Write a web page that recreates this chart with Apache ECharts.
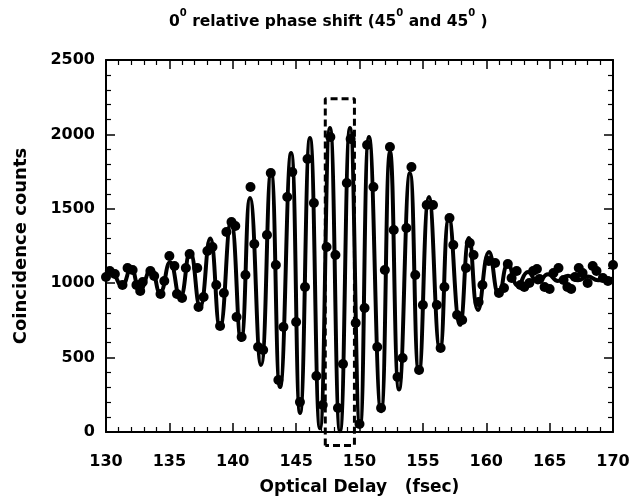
<!DOCTYPE html>
<html><head><meta charset="utf-8">
<script src="https://cdn.jsdelivr.net/npm/echarts@6/dist/echarts.min.js"></script>
<style>html,body{margin:0;padding:0;background:#fff}#c{width:634px;height:504px}</style>
</head><body><div id="c"></div>
<script>
// tick labels
const xTicks = [130, 135, 140, 145, 150, 155, 160, 165, 170];
const yTicks = [0, 500, 1000, 1500, 2000, 2500];

// measured data points (optical delay in fsec, coincidence counts)
const dotX = [130.0,130.3,130.7,131.3,131.7,132.1,132.4,132.7,132.9,133.5,133.8,134.3,134.6,135.0,135.4,135.6,136.0,136.3,136.6,137.2,137.3,137.7,138.0,138.4,138.7,139.0,139.3,139.5,139.9,140.2,140.3,140.7,141.0,141.4,141.7,142.0,142.4,142.7,143.0,143.4,143.6,144.0,144.3,144.7,145.0,145.3,145.7,145.9,146.4,146.6,147.1,147.4,147.7,148.1,148.3,148.7,149.0,149.3,149.7,150.0,150.4,150.6,151.1,151.4,151.7,152.0,152.4,152.7,153.0,153.4,153.7,154.1,154.4,154.7,155.0,155.3,155.8,156.1,156.4,156.7,157.1,157.4,157.7,158.1,158.4,158.7,159.0,159.4,159.7,160.2,160.7,161.0,161.4,161.7,162.0,162.4,162.7,163.0,163.4,163.7,164.0,164.2,164.6,165.0,165.3,165.7,166.1,166.4,166.7,167.0,167.3,167.6,168.0,168.4,168.7,169.2,169.6,170.0];
const dotY = [1042,1082,1062,988,1102,1089,988,948,1008,1082,1048,927,1015,1183,1116,927,900,1102,1196,1102,840,907,1216,1243,988,712,934,1344,1411,1384,773,638,1055,1646,1263,571,551,1324,1740,1122,349,706,1579,1747,739,202,974,1835,1539,376,181,1243,1982,1189,161,457,1673,1969,732,54,833,1929,1646,571,161,1089,1915,1357,370,497,1371,1781,1055,417,853,1525,1525,853,564,974,1438,1257,786,753,1102,1270,1189,874,988,1149,1136,934,968,1129,1035,1082,988,974,1001,1082,1095,1028,974,961,1068,1102,1021,974,961,1042,1102,1068,1001,1116,1082,1035,1015,1122];

// fitted curve, read at its turning points
const fitX = [130.00,130.32,131.26,131.97,132.68,133.55,134.26,135.05,135.84,136.63,137.42,138.21,138.99,139.86,140.65,141.36,142.23,143.02,143.73,144.60,145.31,146.09,146.88,147.67,148.46,149.25,150.04,150.75,151.70,152.41,153.12,153.98,154.69,155.48,156.35,157.06,157.93,158.64,159.35,160.22,161.01,161.72,162.50,163.29,164.08,164.87,165.66,166.45,167.24,168.03,168.82,170.00];
const fitY = [1045,1090,985,1100,955,1095,935,1140,900,1210,840,1300,705,1411,618,1572,450,1747,302,1875,128,1976,25,2043,5,2043,40,1983,140,1882,285,1740,400,1579,555,1438,720,1304,820,1210,920,1130,985,1075,1005,1060,1015,1050,1020,1045,1020,1030];

// dashed box around the central fringe
const boxX = [147.3, 149.6];
const boxY = [-90, 2240];

const zip = (a, b) => a.map((v, i) => [v, b[i]]);
const boxData = [[boxX[0], boxY[0]], [boxX[0], boxY[1]], [boxX[1], boxY[1]], [boxX[1], boxY[0]], [boxX[0], boxY[0]]];

const FONT = 'DejaVu Sans';
const axisCommon = {
  type: 'value',
  axisLine: { show: true, onZero: false, lineStyle: { color: '#000', width: 2 } },
  axisTick: { show: true, inside: true, length: 9, lineStyle: { color: '#000', width: 1.5 } },
  minorTick: { show: true, splitNumber: 5, length: 5, lineStyle: { color: '#000', width: 1.2 } },
  splitLine: { show: false },
  minorSplitLine: { show: false }
};
const labelStyle = { color: '#000', fontFamily: FONT, fontWeight: 'bold', fontSize: 16, formatter: v => String(v) };

const chart = echarts.init(document.getElementById('c'));
chart.setOption({
  animation: false,
  backgroundColor: '#fff',
  title: {
    text: '{b|0}{s|0}{b| relative phase shift (45}{s|0}{b| and 45}{s|0}{b| )}',
    left: 164,
    top: 3,
    textStyle: {
      rich: {
        b: { fontFamily: FONT, fontWeight: 'bold', fontSize: 15.5, color: '#000', lineHeight: 22, verticalAlign: 'bottom' },
        s: { fontFamily: FONT, fontWeight: 'bold', fontSize: 10, color: '#000', lineHeight: 22, verticalAlign: 'top' }
      }
    }
  },
  grid: { left: 106, right: 21, top: 60, bottom: 72, containLabel: false },
  xAxis: [
    Object.assign({}, axisCommon, {
      position: 'bottom',
      min: xTicks[0], max: xTicks[xTicks.length - 1], interval: xTicks[1] - xTicks[0],
      name: 'Optical Delay   (fsec)', nameLocation: 'middle', nameGap: 47,
      nameTextStyle: { color: '#000', fontFamily: FONT, fontWeight: 'bold', fontSize: 17 },
      axisLabel: Object.assign({ margin: 22 }, labelStyle)
    }),
    Object.assign({}, axisCommon, {
      position: 'top',
      min: xTicks[0], max: xTicks[xTicks.length - 1], interval: xTicks[1] - xTicks[0],
      axisLabel: { show: false }
    })
  ],
  yAxis: [
    Object.assign({}, axisCommon, {
      position: 'left',
      min: yTicks[0], max: yTicks[yTicks.length - 1], interval: yTicks[1] - yTicks[0],
      name: 'Coincidence counts', nameLocation: 'middle', nameGap: 76,
      nameTextStyle: { color: '#000', fontFamily: FONT, fontWeight: 'bold', fontSize: 18 },
      axisLabel: Object.assign({ margin: 11 }, labelStyle)
    }),
    Object.assign({}, axisCommon, {
      position: 'right',
      min: yTicks[0], max: yTicks[yTicks.length - 1], interval: yTicks[1] - yTicks[0],
      axisLabel: { show: false }
    })
  ],
  series: [
    {
      type: 'line', data: zip(fitX, fitY), smooth: 0.5, symbol: 'none',
      lineStyle: { color: '#000', width: 4 }, z: 3
    },
    {
      type: 'scatter', data: zip(dotX, dotY), symbol: 'circle', symbolSize: 10,
      itemStyle: { color: '#000', opacity: 1 }, z: 4
    },
    {
      type: 'line', data: boxData, symbol: 'none', clip: false,
      lineStyle: { color: '#000', width: 3, type: [7, 4] }, z: 5
    }
  ]
});
</script>
</body></html>
